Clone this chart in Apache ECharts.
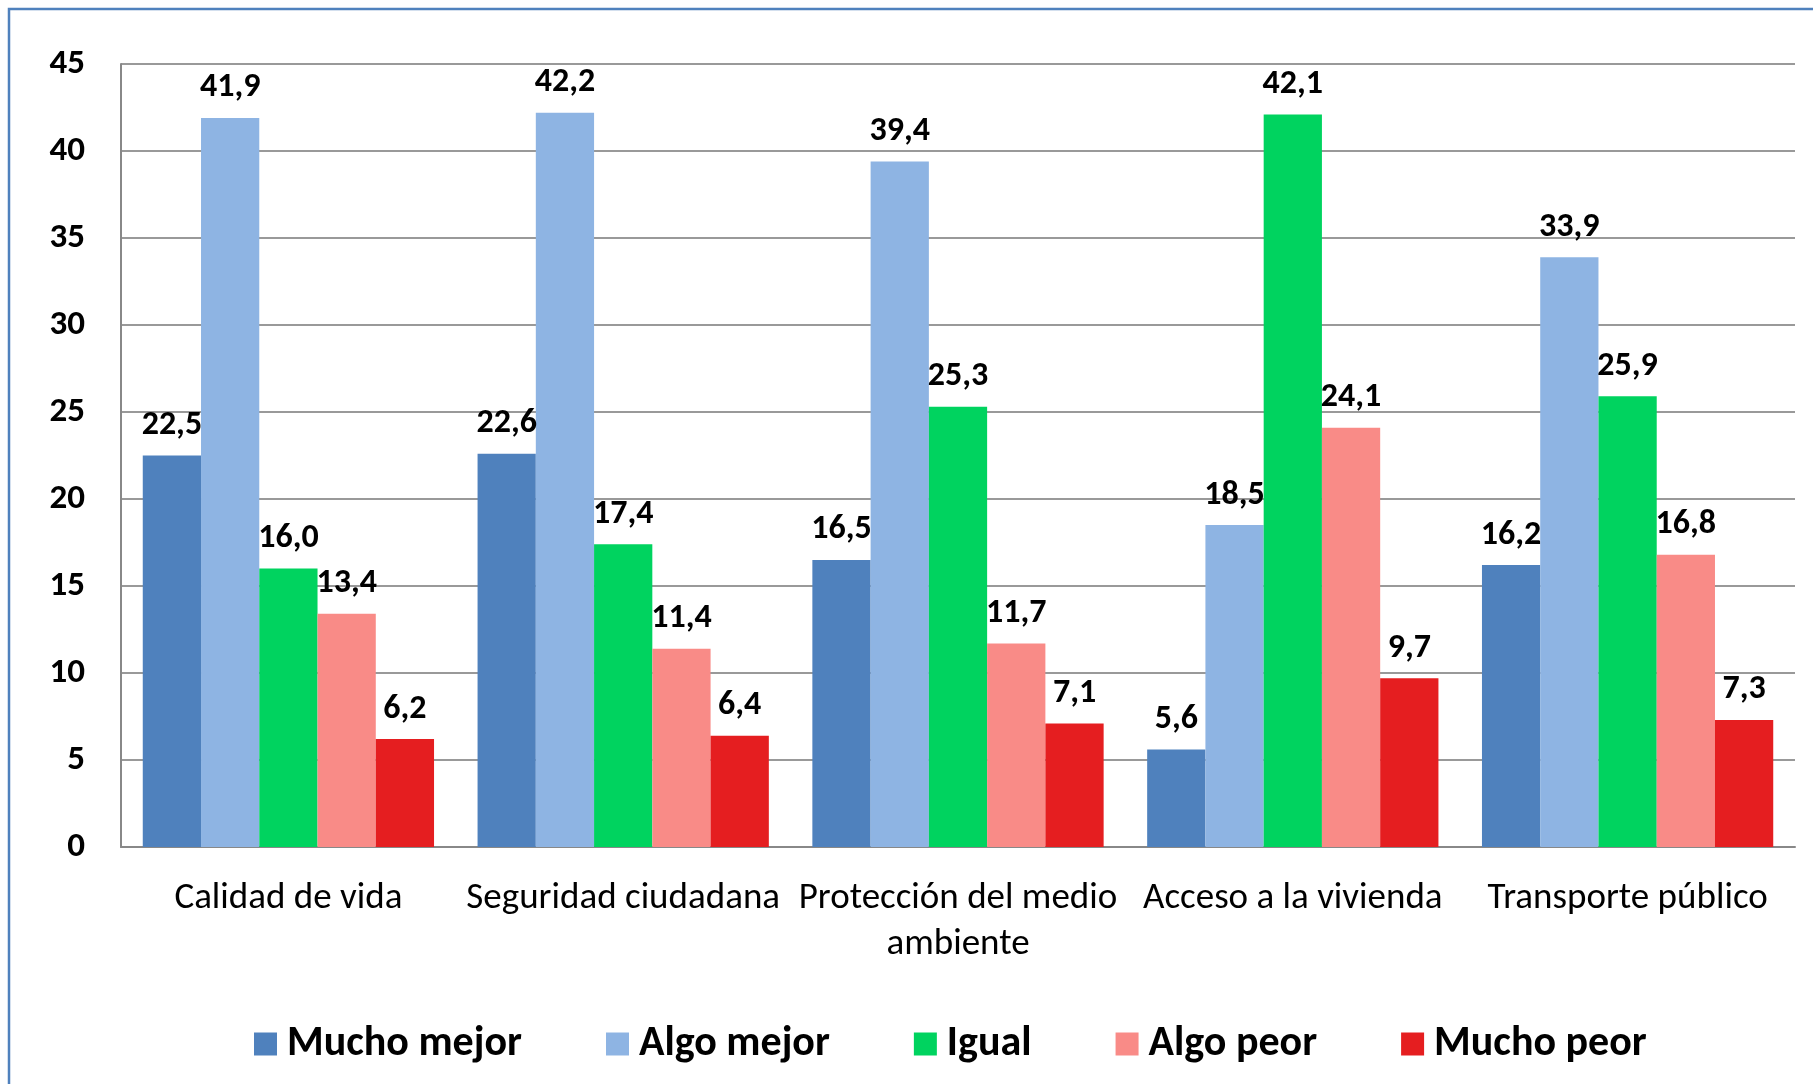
<!DOCTYPE html>
<html>
<head>
<meta charset="utf-8">
<script src="https://cdn.jsdelivr.net/npm/echarts@6/dist/echarts.min.js"></script>
<style>
html,body{margin:0;padding:0;background:#fff;}
#chart{width:1813px;height:1084px;}
</style>
</head>
<body>
<div id="chart"></div>
<script>
const categories = ['Calidad de vida', 'Seguridad ciudadana', 'Protección del medio\nambiente', 'Acceso a la vivienda', 'Transporte público'];
const seriesNames = ['Mucho mejor', 'Algo mejor', 'Igual', 'Algo peor', 'Mucho peor'];
const muchoMejor = [22.5, 22.6, 16.5, 5.6, 16.2];
const algoMejor = [41.9, 42.2, 39.4, 18.5, 33.9];
const igual = [16.0, 17.4, 25.3, 42.1, 25.9];
const algoPeor = [13.4, 11.4, 11.7, 24.1, 16.8];
const muchoPeor = [6.2, 6.4, 7.1, 9.7, 7.3];
const yTicks = [0, 5, 10, 15, 20, 25, 30, 35, 40, 45];

const colors = ['#4F81BD', '#8EB4E3', '#00D35F', '#F98B87', '#E51E20'];
const values = [muchoMejor, algoMejor, igual, algoPeor, muchoPeor];
const FONT = 'Carlito, Calibri, Lato, sans-serif';

const chart = echarts.init(document.getElementById('chart'));
chart.setOption({
  animation: false,
  color: colors,
  textStyle: { fontFamily: FONT },
  graphic: [{
    type: 'rect',
    shape: { x: 9, y: 9, width: 1900, height: 1200 },
    style: { fill: 'none', stroke: '#4F81BD', lineWidth: 2.5 },
    silent: true
  }],
  grid: { left: 121, right: 18, top: 64, bottom: 237, containLabel: false },
  legend: {
    data: seriesNames,
    bottom: 14,
    left: 249,
    itemWidth: 23,
    itemHeight: 23,
    itemGap: 84,
    icon: 'rect',
    textStyle: { fontFamily: FONT, fontSize: 42, fontWeight: 'bold', color: '#000', padding: [0, 0, 0, 5] }
  },
  xAxis: {
    type: 'category',
    data: categories,
    axisTick: { show: false },
    axisLine: { lineStyle: { color: '#888', width: 2 } },
    axisLabel: { fontFamily: FONT, fontSize: 37, color: '#000', margin: 29, lineHeight: 46, interval: 0 }
  },
  yAxis: {
    type: 'value',
    min: yTicks[0],
    max: yTicks[yTicks.length - 1],
    interval: 5,
    axisLine: { show: true, lineStyle: { color: '#888', width: 2 } },
    axisTick: { show: false },
    splitLine: { lineStyle: { color: '#999', width: 2 } },
    axisLabel: { fontFamily: FONT, fontSize: 35, fontWeight: 'bold', color: '#000', margin: 36 }
  },
  series: seriesNames.map((name, i) => ({
    name: name,
    type: 'bar',
    data: values[i],
    barGap: '0%',
    barCategoryGap: '13%',
    itemStyle: { color: colors[i] },
    label: {
      show: true,
      position: 'top',
      distance: 13,
      fontFamily: FONT,
      fontSize: 34,
      fontWeight: 'bold',
      color: '#000',
      formatter: p => p.value.toFixed(1).replace('.', ',')
    }
  }))
});
</script>
</body>
</html>
